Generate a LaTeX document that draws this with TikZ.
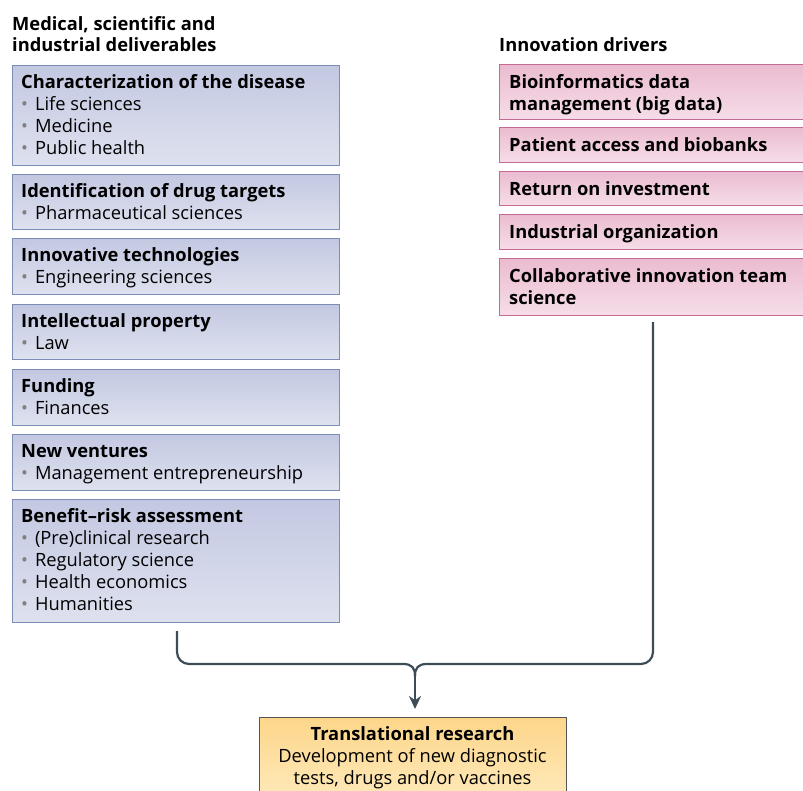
\documentclass[tikz,border=0pt]{standalone}
\usepackage{fontspec}
\setmainfont{Open Sans}
\usetikzlibrary{arrows.meta}
\definecolor{ltop}{HTML}{C3C8E2}
\definecolor{lbot}{HTML}{DEE1EE}
\definecolor{ledge}{HTML}{7D8CB5}
\definecolor{rtop}{HTML}{EBBBD0}
\definecolor{rbot}{HTML}{F5DDE8}
\definecolor{redge}{HTML}{C46A93}
\definecolor{otop}{HTML}{FDD68A}
\definecolor{obot}{HTML}{FEE9BA}
\definecolor{oedge}{HTML}{555555}
\definecolor{conn}{HTML}{3D4D57}
\definecolor{bul}{HTML}{808080}
\newcommand{\bl}{\hspace{0.1em}{\color{bul}\textbullet}\hspace{0.38em}}
\tikzset{
  lboxst/.style={draw=ledge, line width=1pt, top color=ltop, bottom color=lbot},
  rboxst/.style={draw=redge, line width=1pt, top color=rtop, bottom color=rbot},
  oboxst/.style={draw=oedge, line width=1pt, top color=otop, bottom color=obot},
  txt/.style={anchor=base west, inner sep=0pt, font=\fontsize{18.3}{22}\selectfont},
  hdr/.style={anchor=base west, inner sep=0pt, font=\fontsize{18.3}{21}\selectfont\bfseries},
  connst/.style={draw=conn, line width=2.2pt},
}
\newcommand{\lbx}[4]{%
  \path[lboxst] (12,#2) rectangle (339,#3);
  \node[txt] (#1) at (21,#2+23) {\parbox[t]{315pt}{#4}};}
\newcommand{\rbx}[4]{%
  \path[rboxst] (499,#2) rectangle (806,#3);
  \node[txt] (#1) at (509,#2+24) {\parbox[t]{295pt}{\bfseries #4}};}
\begin{document}
\begin{tikzpicture}[x=1pt,y=-1pt]
\useasboundingbox (0,0) rectangle (803,790);
\clip (0,0) rectangle (803,790);
\node[hdr] (t1) at (12,30) {\parbox[t]{300pt}{Medical, scientific and\\industrial deliverables}};
\node[hdr] (t2) at (499,51) {Innovation drivers};
\lbx{l1}{65}{165}{\textbf{Characterization of the disease}\\\bl Life sciences\\\bl Medicine\\\bl Public health}
\lbx{l2}{174}{229}{\textbf{Identification of drug targets}\\\bl Pharmaceutical sciences}
\lbx{l3}{238}{294}{\textbf{Innovative technologies}\\\bl Engineering sciences}
\lbx{l4}{304}{359}{\textbf{Intellectual property}\\\bl Law}
\lbx{l5}{369}{425}{\textbf{Funding}\\\bl Finances}
\lbx{l6}{434}{490}{\textbf{New ventures}\\\bl Management entrepreneurship}
\lbx{l7}{499}{622}{\textbf{Benefit–risk assessment}\\\bl (Pre)clinical research\\\bl Regulatory science\\\bl Health economics\\\bl Humanities}
\rbx{r1}{64}{119}{Bioinformatics data\\management (big data)}
\rbx{r2}{127}{162}{Patient access and biobanks}
\rbx{r3}{171}{205}{Return on investment}
\rbx{r4}{214}{249}{Industrial organization}
\rbx{r5}{258}{315}{Collaborative innovation team\\science}
\path[oboxst] (259,717) rectangle (566,800);
\node[txt, anchor=base] (tr) at (412.5,740)
  {\parbox[t]{300pt}{\centering\textbf{Translational research}\\Development of new diagnostic\\tests, drugs and/or vaccines}};
\coordinate (ls) at (177,631);
\coordinate (rs) at (653,322);
\coordinate (jn) at (415,676);
\coordinate (ae) at (415,709);
\draw[connst, rounded corners=12pt] (ls) -- (177,664) -- (403,664);
\draw[connst] (403,664) .. controls (412,664) and (415,668) .. (jn);
\draw[connst, rounded corners=12pt] (rs) -- (653,664) -- (427,664);
\draw[connst] (427,664) .. controls (418,664) and (415,668) .. (jn);
\draw[connst, -{Stealth[length=13pt,width=12pt]}] (jn) -- (ae);
\end{tikzpicture}
\end{document}
